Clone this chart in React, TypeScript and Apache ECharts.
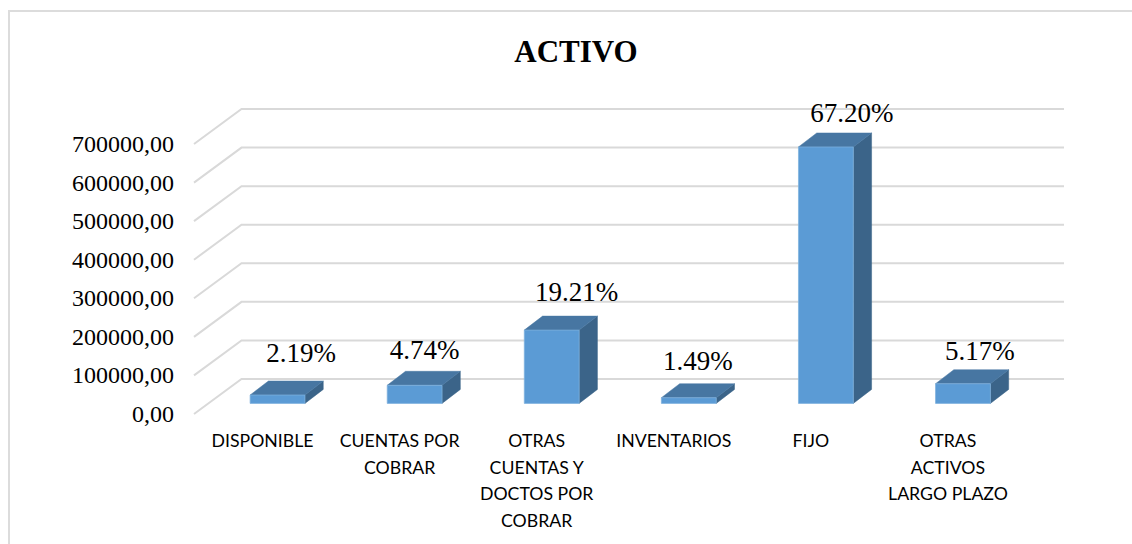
import React, { useEffect, useRef } from "react";
import * as echarts from "echarts";

const titleText = "ACTIVO";
const categories = [
  "DISPONIBLE",
  "CUENTAS POR\nCOBRAR",
  "OTRAS\nCUENTAS Y\nDOCTOS POR\nCOBRAR",
  "INVENTARIOS",
  "FIJO",
  "OTRAS\nACTIVOS\nLARGO PLAZO",
];
const values = [21700, 46900, 190000, 14700, 664800, 51000];
const percentLabels = ["2.19%", "4.74%", "19.21%", "1.49%", "67.20%", "5.17%"];
const gridValues = [0, 100000, 200000, 300000, 400000, 500000, 600000, 700000];

// Layout constants of the pseudo-3D projection
const WALL_DX = 47.5;
const WALL_DY = -35;
const BAR_SHIFT_X = 15;
const BAR_SHIFT_Y = -10.6;
const DEPTH_DX = 18.3;
const DEPTH_DY = -14;
const labelOffsets = [
  [23.5, -42],
  [10, -35],
  [25, -38.5],
  [9, -37],
  [26, -34],
  [17, -33],
];

export default function App() {
  const ref = useRef<HTMLDivElement>(null);
  useEffect(() => {
    document.body.style.margin = "0";
    const chart = echarts.init(ref.current!, undefined, { renderer: "svg" });
    chart.setOption({
      animation: false,
      backgroundColor: "#ffffff",
      title: {
        text: titleText,
        left: 571,
        top: 31,
        textAlign: "center",
        textStyle: { fontFamily: "Liberation Serif", fontWeight: "bold", fontSize: 31, color: "#000000" },
      },
      graphic: [
        { type: "line", shape: { x1: 9, y1: 11, x2: 9, y2: 544 }, style: { stroke: "#dcdcdc", lineWidth: 2 }, silent: true },
        { type: "line", shape: { x1: 8, y1: 11, x2: 1132, y2: 11 }, style: { stroke: "#dcdcdc", lineWidth: 2 }, silent: true },
      ],
      grid: { left: 194, top: 144, width: 822.5, height: 270 },
      xAxis: {
        type: "category",
        data: categories,
        axisLine: { show: false },
        axisTick: { show: false },
        axisLabel: {
          interval: 0,
          margin: 13,
          fontFamily: "Lato",
          fontSize: 17.7,
          lineHeight: 26.7,
          color: "#000000",
          verticalAlign: "top",
        },
      },
      yAxis: {
        type: "value",
        min: 0,
        max: 700000,
        interval: 100000,
        axisLine: { show: false },
        axisTick: { show: false },
        splitLine: { show: false },
        axisLabel: {
          margin: 20,
          fontFamily: "Liberation Serif",
          fontSize: 24,
          color: "#000000",
          formatter: (v: number) => v.toFixed(2).replace(".", ","),
        },
      },
      series: [
        {
          type: "custom",
          z: 1,
          silent: true,
          data: gridValues.map((v) => [0, v]),
          renderItem: (params: any, api: any) => {
            const y = api.coord([0, api.value(1)])[1];
            const x = params.coordSys.x;
            const w = params.coordSys.width;
            return {
              type: "polyline",
              shape: {
                points: [
                  [x, y],
                  [x + WALL_DX, y + WALL_DY],
                  [x + w + WALL_DX, y + WALL_DY],
                ],
              },
              style: { stroke: "#d9d9d9", lineWidth: 2, fill: "none" },
            };
          },
        },
        {
          type: "custom",
          z: 2,
          silent: true,
          data: values.map((v, i) => [i, v]),
          renderItem: (params: any, api: any) => {
            const i = params.dataIndex;
            const top = api.coord([i, api.value(1)]);
            const bottom = api.coord([i, 0]);
            const bw = api.size([1, 0])[0] * 0.4;
            const x0 = top[0] - bw / 2 + BAR_SHIFT_X;
            const x1 = x0 + bw;
            const yT = top[1] + BAR_SHIFT_Y;
            const yB = bottom[1] + BAR_SHIFT_Y;
            return {
              type: "group",
              children: [
                {
                  type: "polygon",
                  shape: { points: [[x1, yT], [x1 + DEPTH_DX, yT + DEPTH_DY], [x1 + DEPTH_DX, yB + DEPTH_DY], [x1, yB]] },
                  style: { fill: "#3b6489", stroke: "#3b6489", lineWidth: 0.5 },
                },
                {
                  type: "polygon",
                  shape: { points: [[x0, yT], [x0 + DEPTH_DX, yT + DEPTH_DY], [x1 + DEPTH_DX, yT + DEPTH_DY], [x1, yT]] },
                  style: { fill: "#4776a2", stroke: "#4776a2", lineWidth: 0.5 },
                },
                {
                  type: "rect",
                  shape: { x: x0, y: yT, width: bw, height: yB - yT },
                  style: { fill: "#5b9bd5", stroke: "#7fb1de", lineWidth: 0.75 },
                },
                {
                  type: "text",
                  x: top[0] + BAR_SHIFT_X + labelOffsets[i][0],
                  y: yT + labelOffsets[i][1],
                  style: {
                    text: percentLabels[i],
                    fontFamily: "Liberation Serif",
                    fontSize: 27,
                    fill: "#000000",
                    align: "center",
                    verticalAlign: "middle",
                  },
                },
              ],
            };
          },
        },
      ],
    });
    return () => chart.dispose();
  }, []);
  return <div ref={ref} style={{ width: 1132, height: 544 }} />;
}
